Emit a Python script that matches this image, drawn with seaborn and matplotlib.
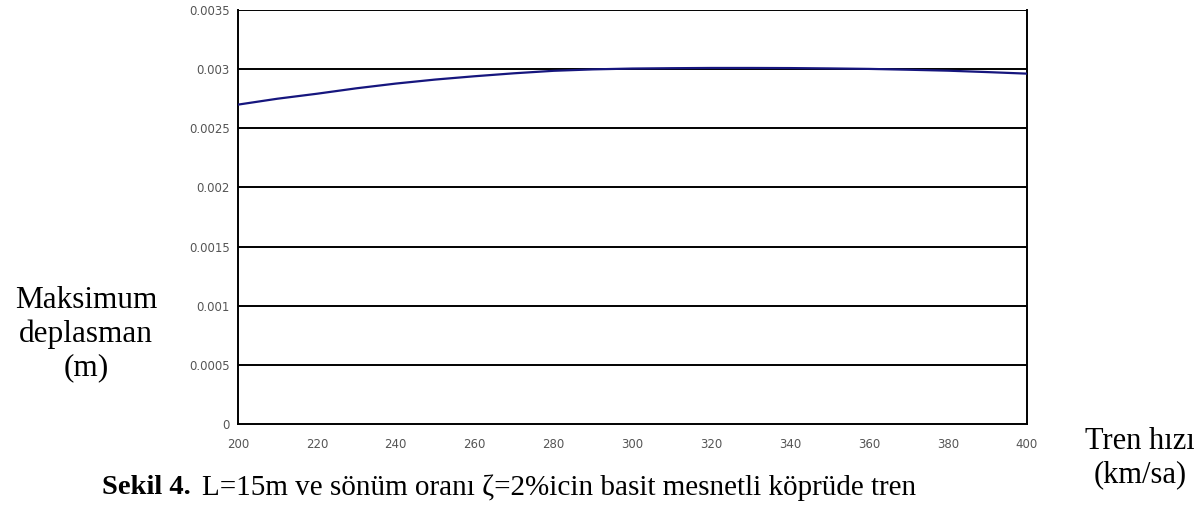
import numpy as np
import pandas as pd
import matplotlib
matplotlib.use("Agg")
import matplotlib.pyplot as plt
import seaborn as sns

speed = [200, 210, 220, 230, 240, 250, 260, 270, 280, 290, 300,
         310, 320, 330, 340, 350, 360, 370, 380, 390, 400]
displacement = [0.002700, 0.002750, 0.002792, 0.002838, 0.002878, 0.002912,
                0.002940, 0.002965, 0.002986, 0.002998, 0.003005, 0.003008,
                0.003010, 0.003010, 0.003009, 0.003006, 0.003002, 0.002995,
                0.002987, 0.002975, 0.002962]
x_ticks = [200, 220, 240, 260, 280, 300, 320, 340, 360, 380, 400]
y_ticks = [0, 0.0005, 0.001, 0.0015, 0.002, 0.0025, 0.003, 0.0035]
y_tick_labels = ["0", "0.0005", "0.001", "0.0015", "0.002", "0.0025", "0.003", "0.0035"]

sns.set_theme(style="white")
plt.rcParams['font.family'] = ['DejaVu Sans']

df = pd.DataFrame({"speed": speed, "disp": displacement})

fig = plt.figure(figsize=(11.94, 5.22), dpi=100)
ax = fig.add_axes([238/1194, 1-424/522, (1027-238)/1194, (424-10)/522])

for yv in y_ticks[1:]:
    ax.axhline(yv, color="black", lw=1.4, zorder=1)

sns.lineplot(data=df, x="speed", y="disp", ax=ax, color="#16167e", lw=1.6, zorder=3)

ax.set_xlim(200, 400)
ax.set_ylim(0, 0.0035)
ax.set_xticks(x_ticks)
ax.set_xticklabels([str(v) for v in x_ticks])
ax.set_yticks(y_ticks)
ax.set_yticklabels(y_tick_labels)
ax.tick_params(axis="both", direction="out", length=4, width=1.2, color="black",
               labelsize=8.5, labelcolor="#555555")
ax.tick_params(axis="y", pad=2)
ax.tick_params(axis="x", pad=6)
ax.set_xlabel("")
ax.set_ylabel("")
for side in ["left", "right", "bottom"]:
    ax.spines[side].set_visible(True)
    ax.spines[side].set_color("black")
    ax.spines[side].set_linewidth(1.4)
ax.spines["top"].set_visible(False)

serif = ["Liberation Serif", "DejaVu Serif"]
fig.text(86/1194, 1-334/522, "Maksimum\ndeplasman\n(m)", ha="center", va="center",
         fontsize=22.5, family=serif, linespacing=1.2, color="black")
fig.text(1140/1194, 1-458/522, "Tren hızı\n(km/sa)", ha="center", va="center",
         fontsize=22, family=serif, linespacing=1.2, color="black")

t1 = fig.text(102/1194, 1-488/522, "Sekil 4.", ha="left", va="center",
              fontsize=20.5, family=serif, fontweight="bold", color="black")
fig.canvas.draw()
bb = t1.get_window_extent()
fig.text((bb.x1 + 11)/1194, 1-488/522, "L=15m ve sönüm oranı ζ=2%icin basit mesnetli köprüde tren",
         ha="left", va="center", fontsize=21, family=serif, color="black")

fig.savefig("out.png", dpi=100)
